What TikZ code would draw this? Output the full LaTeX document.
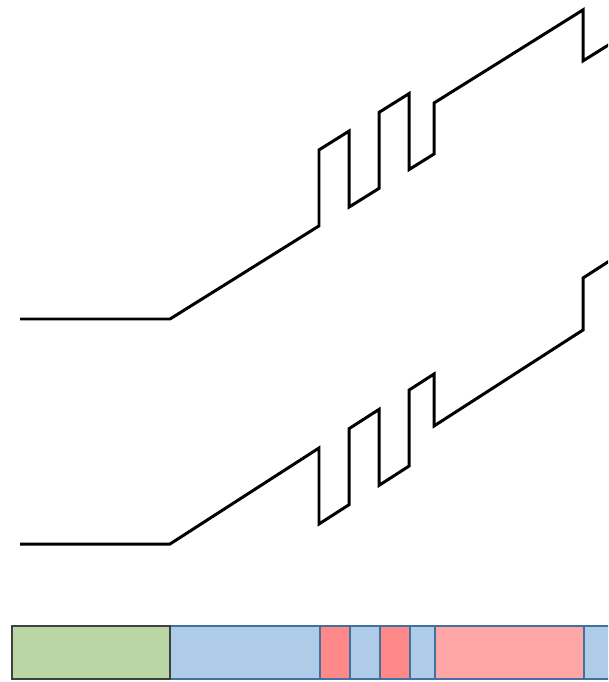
\documentclass[tikz,border=0pt]{standalone}
\usepackage{tikz}
\definecolor{bargreen}{RGB}{185,214,164}
\definecolor{barblue}{RGB}{174,203,232}
\definecolor{barred}{RGB}{255,136,136}
\definecolor{barpink}{RGB}{255,166,166}
\definecolor{edgeblue}{RGB}{65,113,156}
\tikzset{
  signal/.style={line width=1.7pt, line join=miter, draw=black},
  segbox/.style={line width=0.7pt, draw=edgeblue}
}

\begin{document}
\begin{tikzpicture}[x=0.02cm, y=-0.02cm]
  \useasboundingbox (0,0) rectangle (608,682);
  \clip (0,0) rectangle (608,682);
  % upper trace: shifted up over the red parts
  \draw[signal] (20,319) -- (170,319) -- (319,225.9) -- (319,149.9) -- (349,131.1) -- (349,207.1)
    -- (379,188.4) -- (379,112.4) -- (409,93.6) -- (409,169.6) -- (434,154) -- (434,103)
    -- (583,9.9) -- (583,60.9) -- (630,31.5);
  % lower trace: shifted down over the red parts
  \draw[signal] (20,544) -- (170,544) -- (319,448) -- (319,524) -- (349,504.7) -- (349,428.7)
    -- (379,409.4) -- (379,485.4) -- (409,466.1) -- (409,390.1) -- (434,374) -- (434,426)
    -- (583,330) -- (583,278) -- (630,247.7);
  % segment bar
  \foreach \a/\b/\c in {170/320/barblue, 320/350/barred, 350/380/barblue, 380/410/barred,
                        410/435/barblue, 435/584/barpink, 584/640/barblue}
    \draw[segbox, fill=\c] (\a,626) rectangle (\b,679);
  \draw[line width=0.8pt, draw=black!75, fill=bargreen] (12,626) rectangle (170,679);
\end{tikzpicture}
\end{document}
